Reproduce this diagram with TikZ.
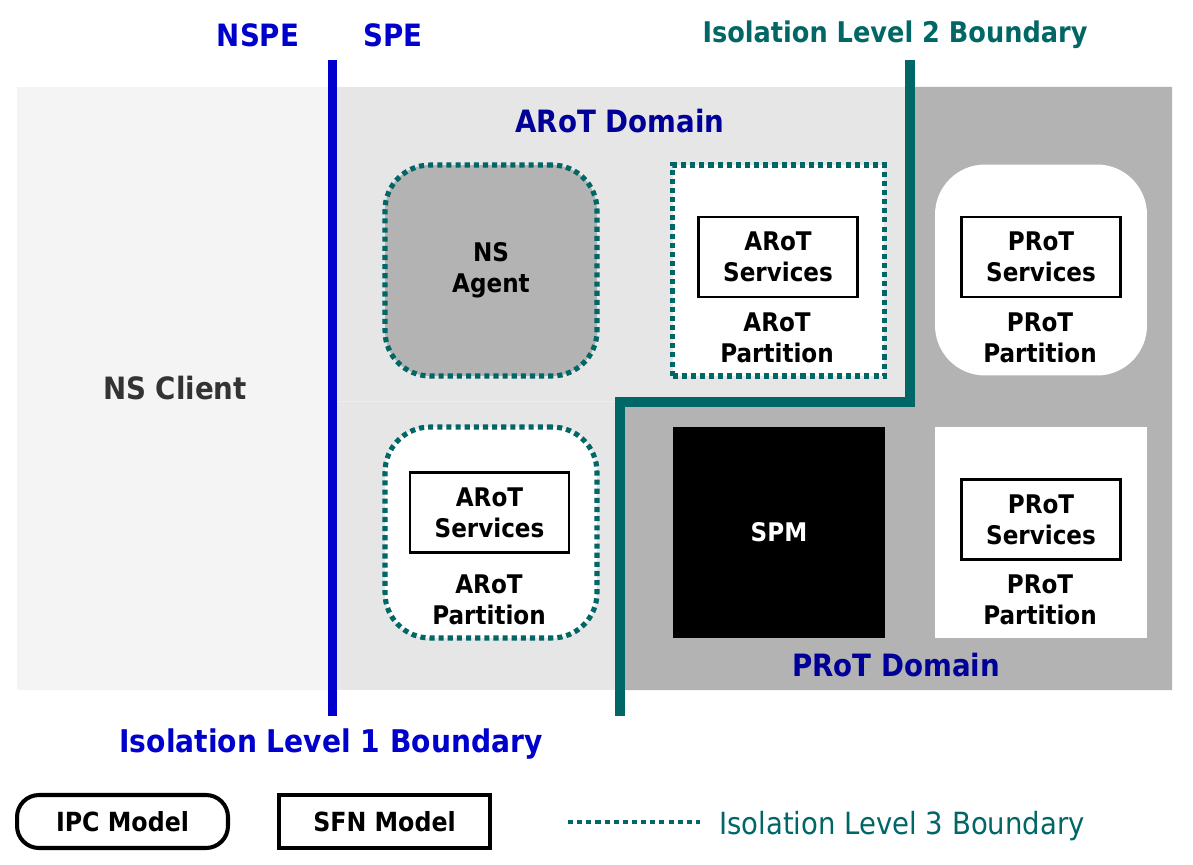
\documentclass[tikz,border=0pt]{standalone}
\usepackage{fontspec}
\setmainfont{DejaVu Sans}[FakeStretch=0.9]

\definecolor{speblue}{RGB}{0,0,204}
\definecolor{domblue}{RGB}{0,0,153}
\definecolor{isoteal}{RGB}{0,102,102}
\definecolor{nsbg}{RGB}{244,244,244}
\definecolor{arotbg}{RGB}{230,230,230}
\definecolor{protbg}{RGB}{179,179,179}
\definecolor{nstext}{RGB}{51,51,51}

\newcommand{\boxfont}{\fontsize{14.6}{17.6}\selectfont\bfseries}
\newcommand{\bigfont}{\fontsize{17.5}{21}\selectfont\bfseries}

\begin{document}
\begin{tikzpicture}[x=0.02cm, y=-0.02cm,
        partbox/.style={minimum width=4.24cm, minimum height=4.22cm, inner sep=0pt},
        lvlthree/.style={draw=isoteal, line width=2.9pt, dash pattern=on 2.9pt off 2.3pt},
        svcbox/.style={draw=black, line width=1.4pt, fill=white, minimum width=3.18cm,
            minimum height=1.6cm, inner sep=0pt, align=center, font=\boxfont},
        partlabel/.style={align=center, font=\boxfont, inner sep=0pt},
        legendbox/.style={draw=black, line width=2.3pt, minimum width=4.22cm,
            minimum height=1.06cm, inner sep=0pt, font=\fontsize{15}{18}\selectfont\bfseries}]
    \useasboundingbox (0,0) rectangle (1193,865);

    % environments and domains
    \fill[nsbg]   (17,87) rectangle (332,690);
    \fill[arotbg] (332,87) rectangle (1172,690);
    \fill[protbg] (910,87) -- (1172,87) -- (1172,690) -- (620,690) -- (620,402) -- (910,402) -- cycle;
    \draw[white!93!black, line width=0.5pt] (332,401) -- (620,401);

    % partitions
    \node[partbox, rounded corners=0.9cm, fill=protbg, lvlthree, align=center, font=\boxfont]
        (agent) at (491,270.5) {NS\\Agent};
    \node[partbox, fill=white, lvlthree] (arotA) at (778.5,270.5) {};
    \node[partbox, rounded corners=1cm, fill=white] (protA) at (1041,270) {};
    \node[partbox, rounded corners=0.9cm, fill=white, lvlthree] (arotB) at (491,532.5) {};
    \node[partbox, fill=black, text=white, font=\boxfont] (spm) at (779,532.5) {SPM};
    \node[partbox, fill=white] (protB) at (1041,532.5) {};

    \node[svcbox] (arotAsvc) at (778,257) {ARoT\\Services};
    \node[svcbox] (protAsvc) at (1041,257) {PRoT\\Services};
    \node[svcbox] (arotBsvc) at (489.5,512.5) {ARoT\\Services};
    \node[svcbox] (protBsvc) at (1041,519.5) {PRoT\\Services};

    \node[partlabel] (arotAlbl) at (777,338) {ARoT\\Partition};
    \node[partlabel] (protAlbl) at (1040,338) {PRoT\\Partition};
    \node[partlabel] (arotBlbl) at (489,600) {ARoT\\Partition};
    \node[partlabel] (protBlbl) at (1040,600) {PRoT\\Partition};

    % boundaries
    \coordinate (lvloneTop) at (332.5,60);
    \coordinate (lvloneBot) at (332.5,716);
    \draw[speblue, line width=5.3pt] (lvloneTop) -- (lvloneBot);
    \coordinate (lvltwoTop) at (910,60);
    \coordinate (lvltwoBot) at (620,716);
    \draw[isoteal, line width=5.3pt, line join=miter]
        (lvltwoTop) -- (910,402) -- (620,402) -- (lvltwoBot);

    % labels
    \node[text=speblue, font=\bigfont] (nspe) at (258,35) {NSPE};
    \node[text=speblue, font=\bigfont] (spe) at (393,35) {SPE};
    \node[text=isoteal, font=\fontsize{16.2}{19}\selectfont\bfseries] (lvltwo) at (895,35) {Isolation Level 2 Boundary};
    \node[text=domblue, font=\bigfont] (arotdom) at (620,121) {ARoT Domain};
    \node[text=domblue, font=\bigfont] (protdom) at (896,665) {PRoT Domain};
    \node[text=nstext, font=\bigfont] (nsclient) at (175,388) {NS Client};
    \node[text=speblue, font=\fontsize{17.8}{21}\selectfont\bfseries] (lvlone) at (331,744) {Isolation Level 1 Boundary};

    % legend
    \node[legendbox, rounded corners=0.44cm] (ipc) at (122.5,821.5) {IPC Model};
    \node[legendbox] (sfn) at (384.5,821.5) {SFN Model};
    \coordinate (lvlthreeA) at (568,822);
    \coordinate (lvlthreeB) at (700,822);
    \draw[lvlthree, line width=2.5pt] (lvlthreeA) -- (lvlthreeB);
    \node[anchor=west, inner sep=0pt, text=isoteal, font=\fontsize{17.4}{21}\selectfont]
        (lvlthree) at (719,826) {Isolation Level 3 Boundary};
\end{tikzpicture}
\end{document}
